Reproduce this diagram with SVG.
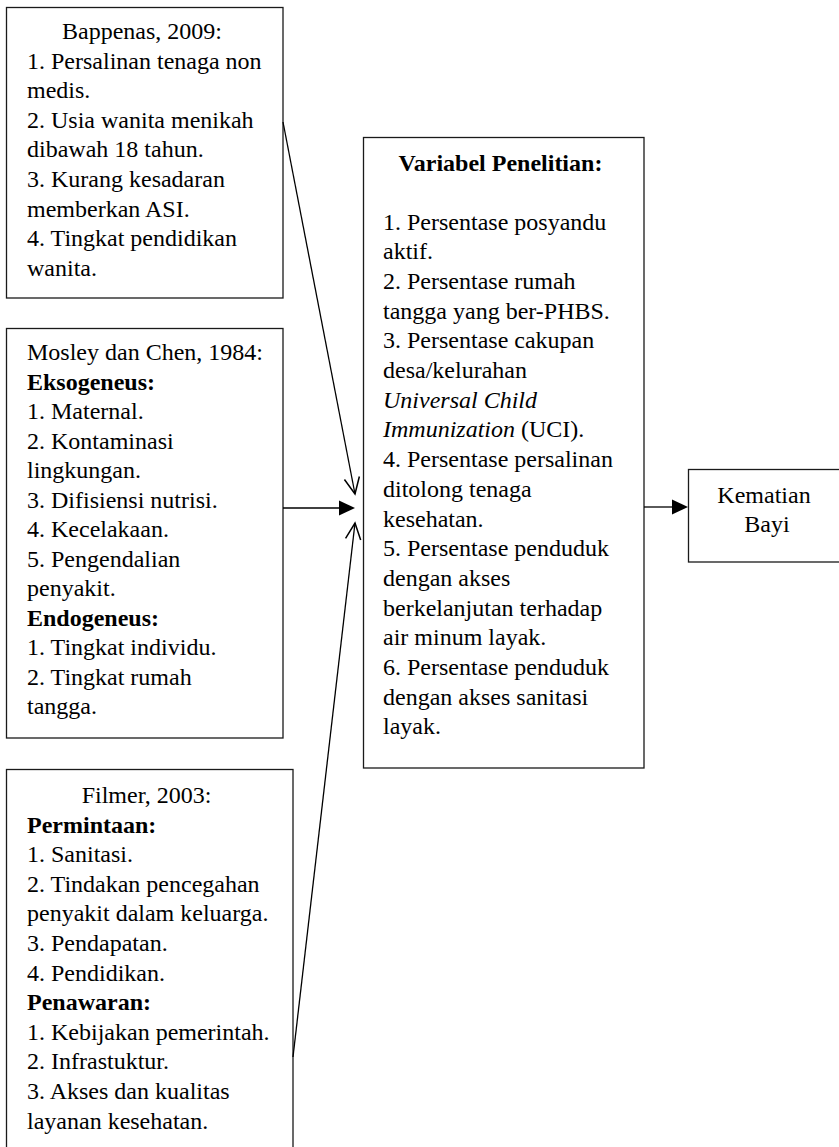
<svg xmlns="http://www.w3.org/2000/svg" width="839" height="1147" viewBox="0 0 839 1147">
<style>
  .box { fill: #fff; stroke: #1a1a1a; stroke-width: 1.3; }
  .t { font-family: "Liberation Serif", "Times New Roman", serif; font-size: 24px; fill: #000; }
  .c { text-anchor: middle; }
  .b { font-weight: bold; }
  .i { font-style: italic; }
  .ln { stroke: #000; stroke-width: 1.3; fill: none; }
</style>
<defs>
  <marker id="open" markerUnits="userSpaceOnUse" viewBox="-20 -10 22 20" refX="0" refY="0" markerWidth="22" markerHeight="20" orient="auto" overflow="visible">
    <path d="M-16.3,-7.6 L0,0 L-16.3,7.6" fill="none" stroke="#000" stroke-width="1.5"/>
  </marker>
  <marker id="filled" markerUnits="userSpaceOnUse" viewBox="-17 -9 18 18" refX="0" refY="0" markerWidth="18" markerHeight="18" orient="auto" overflow="visible">
    <path d="M-16,-7.5 L0,0 L-16,7.5 Z" fill="#000"/>
  </marker>
</defs>

<g id="bappenas">
  <rect class="box" x="6.5" y="7.5" width="276.5" height="290.5"/>
  <text class="t">
    <tspan class="c" x="145" y="39">Bappenas, 2009:</tspan>
    <tspan x="27" y="68.6">1. Persalinan tenaga non</tspan>
    <tspan x="27" y="98.2">medis.</tspan>
    <tspan x="27" y="127.8">2. Usia wanita menikah</tspan>
    <tspan x="27" y="157.4">dibawah 18 tahun.</tspan>
    <tspan x="27" y="187">3. Kurang kesadaran</tspan>
    <tspan x="27" y="216.6">memberkan ASI.</tspan>
    <tspan x="27" y="246.2">4. Tingkat pendidikan</tspan>
    <tspan x="27" y="275.8">wanita.</tspan>
  </text>
</g>

<g id="mosley">
  <rect class="box" x="6.5" y="328.5" width="276.5" height="409.5"/>
  <text class="t">
    <tspan x="27" y="360">Mosley dan Chen, 1984:</tspan>
    <tspan class="b" x="27" y="389.5">Eksogeneus:</tspan>
    <tspan x="27" y="419">1. Maternal.</tspan>
    <tspan x="27" y="448.5">2. Kontaminasi</tspan>
    <tspan x="27" y="478">lingkungan.</tspan>
    <tspan x="27" y="507.5">3. Difisiensi nutrisi.</tspan>
    <tspan x="27" y="537">4. Kecelakaan.</tspan>
    <tspan x="27" y="566.5">5. Pengendalian</tspan>
    <tspan x="27" y="596">penyakit.</tspan>
    <tspan class="b" x="27" y="625.5">Endogeneus:</tspan>
    <tspan x="27" y="655">1. Tingkat individu.</tspan>
    <tspan x="27" y="684.5">2. Tingkat rumah</tspan>
    <tspan x="27" y="714">tangga.</tspan>
  </text>
</g>

<g id="filmer">
  <rect class="box" x="6.5" y="769.5" width="286.5" height="400"/>
  <text class="t">
    <tspan class="c" x="149.5" y="803">Filmer, 2003:</tspan>
    <tspan class="b" x="27" y="832.6">Permintaan:</tspan>
    <tspan x="27" y="862.2">1. Sanitasi.</tspan>
    <tspan x="27" y="891.8">2. Tindakan pencegahan</tspan>
    <tspan x="27" y="921.4">penyakit dalam keluarga.</tspan>
    <tspan x="27" y="951">3. Pendapatan.</tspan>
    <tspan x="27" y="980.6">4. Pendidikan.</tspan>
    <tspan class="b" x="27" y="1010.2">Penawaran:</tspan>
    <tspan x="27" y="1039.8">1. Kebijakan pemerintah.</tspan>
    <tspan x="27" y="1069.4">2. Infrastuktur.</tspan>
    <tspan x="27" y="1099">3. Akses dan kualitas</tspan>
    <tspan x="27" y="1128.6">layanan kesehatan.</tspan>
  </text>
</g>

<g id="variabel">
  <rect class="box" x="363.5" y="137.5" width="280.5" height="630.5"/>
  <text class="t">
    <tspan class="c b" x="503.5" y="170.5">Variabel Penelitian:</tspan>
    <tspan x="383" y="229.5">1. Persentase posyandu</tspan>
    <tspan x="383" y="259.2">aktif.</tspan>
    <tspan x="383" y="288.9">2. Persentase rumah</tspan>
    <tspan x="383" y="318.6">tangga yang ber-PHBS.</tspan>
    <tspan x="383" y="348.3">3. Persentase cakupan</tspan>
    <tspan x="383" y="378">desa/kelurahan</tspan>
    <tspan class="i" x="383" y="407.7">Universal Child</tspan>
    <tspan class="i" x="383" y="437.4">Immunization</tspan><tspan> (UCI).</tspan>
    <tspan x="383" y="467.1">4. Persentase persalinan</tspan>
    <tspan x="383" y="496.8">ditolong tenaga</tspan>
    <tspan x="383" y="526.5">kesehatan.</tspan>
    <tspan x="383" y="556.2">5. Persentase penduduk</tspan>
    <tspan x="383" y="585.9">dengan akses</tspan>
    <tspan x="383" y="615.6">berkelanjutan terhadap</tspan>
    <tspan x="383" y="645.3">air minum layak.</tspan>
    <tspan x="383" y="675">6. Persentase penduduk</tspan>
    <tspan x="383" y="704.7">dengan akses sanitasi</tspan>
    <tspan x="383" y="734.4">layak.</tspan>
  </text>
</g>

<g id="kematian">
  <rect class="box" x="688.5" y="469.5" width="160" height="92.5"/>
  <text class="t c">
    <tspan x="767" y="503">Kematian</tspan>
    <tspan x="767" y="532">Bayi</tspan>
  </text>
</g>

<g id="connectors">
  <line class="ln" x1="283" y1="122" x2="355" y2="494" marker-end="url(#open)"/>
  <line class="ln" x1="283" y1="508" x2="340" y2="508"/>
  <line class="ln" x1="283" y1="508" x2="355" y2="508" stroke-opacity="0" marker-end="url(#filled)"/>
  <line class="ln" x1="293" y1="1057" x2="355" y2="523" marker-end="url(#open)"/>
  <line class="ln" x1="644" y1="507" x2="673" y2="507"/>
  <line class="ln" x1="644" y1="507" x2="688" y2="507" stroke-opacity="0" marker-end="url(#filled)"/>
</g>
</svg>
